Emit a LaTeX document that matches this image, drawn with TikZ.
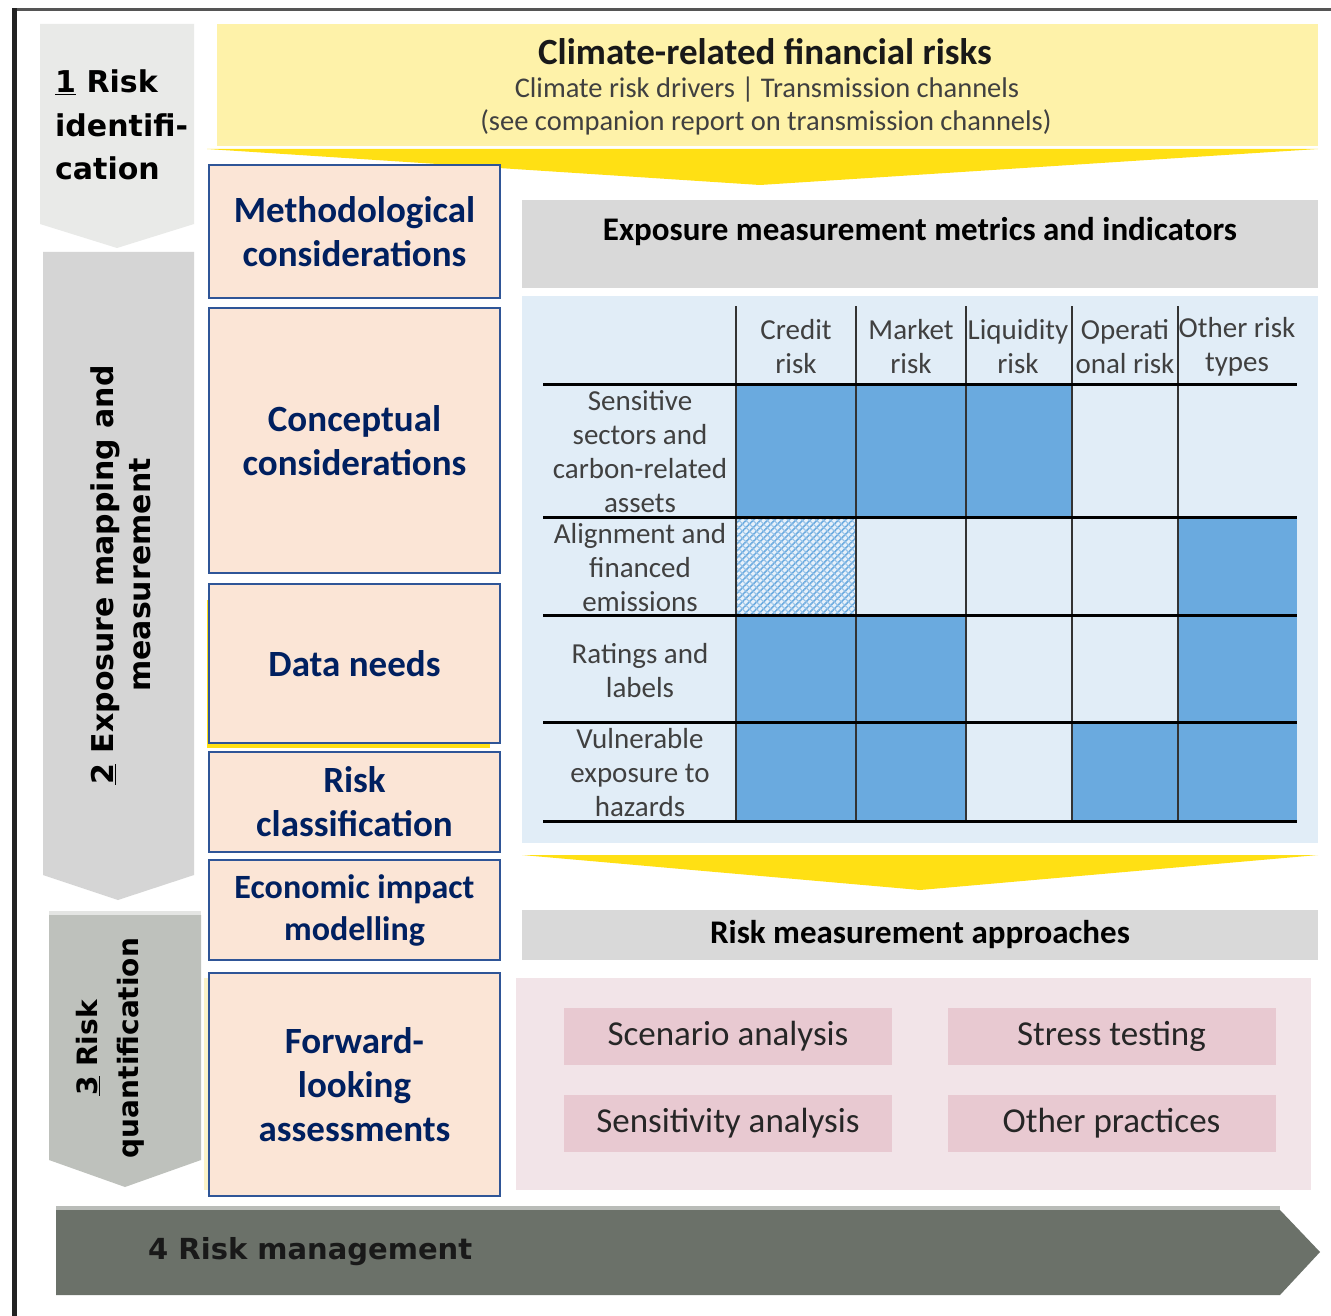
\documentclass[tikz,border=0pt]{standalone}
\usepackage{fontspec}
\setmainfont{Carlito}
\newfontfamily\stagefont{DejaVu Sans}
\usetikzlibrary{patterns,patterns.meta}
\newcommand\myfs[2]{\fontsize{#1}{#2}\selectfont}
\definecolor{frameL}{HTML}{222222}
\definecolor{frameT}{HTML}{555555}
\definecolor{stA}{HTML}{E9EAE8}
\definecolor{stB}{HTML}{D5D5D5}
\definecolor{stC}{HTML}{BEC1BC}
\definecolor{stCtop}{HTML}{E4E5E3}
\definecolor{stD}{HTML}{6B7169}
\definecolor{stDtop}{HTML}{B9BCB8}
\definecolor{paleY}{HTML}{FEF2A9}
\definecolor{goldY}{HTML}{FFE014}
\definecolor{peach}{HTML}{FBE5D6}
\definecolor{boxBorder}{HTML}{2F5597}
\definecolor{navy}{HTML}{002060}
\definecolor{hdrGray}{HTML}{D9D9D9}
\definecolor{panelBlue}{HTML}{E1EDF7}
\definecolor{cellBlue}{HTML}{6AAADF}
\definecolor{hatchBase}{HTML}{E8F1FA}
\definecolor{panelPink}{HTML}{F2E4E8}
\definecolor{cellPink}{HTML}{E8C9D1}
\definecolor{txtGray}{HTML}{404040}
\definecolor{txtDark}{HTML}{262626}
\definecolor{gridGray}{HTML}{333333}
\definecolor{fadeY}{HTML}{FBF3C8}
\begin{document}
\begin{tikzpicture}[x=1pt,y=-1pt,
  leftbox/.style={draw=boxBorder, line width=2.5pt, fill=peach, text=navy, align=center, inner sep=0pt, minimum width=291pt, font=\bfseries\myfs{37}{44}},
  stagelbl/.style={font=\stagefont\bfseries\myfs{30}{37}, text=black, inner sep=0pt, align=center},
  hdrbox/.style={fill=hdrGray, inner sep=0pt, minimum width=796pt},
  hdrtxt/.style={font=\bfseries\myfs{33}{36}, text=black, inner sep=0pt},
  tbltxt/.style={font=\myfs{29}{34}, text=txtGray, inner sep=0pt, align=center},
  approach/.style={fill=cellPink, minimum width=328pt, minimum height=57pt, inner sep=0pt, font=\myfs{35}{40}, text=txtDark},
  gridH/.style={line width=3pt, black},
  gridV/.style={line width=2.8pt, gridGray},
  bluecell/.style={fill=cellBlue},
]
\useasboundingbox (0,0) rectangle (1331,1316);
\fill[white] (0,0) rectangle (1331,1316);

% frame
\draw[frameT, line width=3pt] (14,10) -- (1331,10);
\draw[frameL, line width=5pt] (14,8.5) -- (14,1316);

% stage arrows
\fill[stA] (40,24) -- (194,24) -- (194,224) -- (117,248) -- (40,224) -- cycle;
\fill[stB] (43,252) -- (194,252) -- (194,875) -- (118,900) -- (43,875) -- cycle;
\fill[stCtop] (49,911) rectangle (201,915);
\fill[stC] (49,915) -- (201,915) -- (201,1160) -- (125,1187) -- (49,1160) -- cycle;
\fill[stDtop] (56,1206) rectangle (1280,1211);
\fill[stD] (56,1210) -- (1280,1210) -- (1320,1252) -- (1280,1295) -- (56,1295) -- cycle;

\node[stagelbl, align=left, anchor=north west, font=\stagefont\bfseries\myfs{30}{43.5}] (s1) at (55,70) {\underline{1} Risk\\identifi-\\cation};
\node[stagelbl, rotate=90] (s2) at (121,575) {\underline{2} Exposure mapping and\\measurement};
\node[stagelbl, rotate=90, font=\stagefont\bfseries\myfs{28}{41}] (s3) at (110,1048) {\underline{3} Risk\\quantification};
\node[stagelbl, anchor=west, font=\stagefont\bfseries\myfs{29}{34}, text={black!90}] (s4) at (148,1252) {4 Risk management};

% top banner
\fill[paleY] (217,24) rectangle (1318,146);
\fill[goldY] (207,149) -- (1318,149) -- (760,185) -- cycle;
\node[inner sep=0pt, font=\bfseries\myfs{37}{40}, text=black!90] (ttl) at (765,52) {Climate-related financial risks};
\node[inner sep=0pt, font=\myfs{28.5}{32}, text=txtGray] (sub1) at (767,90) {Climate risk drivers | Transmission channels};
\node[inner sep=0pt, font=\myfs{28.5}{32}, text=txtGray] (sub2) at (766,122) {(see companion report on transmission channels)};

% yellow strips behind left boxes
\fill[goldY] (207,600) rectangle (490,748);
\fill[fadeY] (204,978) rectangle (208,1190);

% left boxes
\node[leftbox, minimum height=133pt] (meth) at (354.5,231.5) {Methodological\\considerations};
\node[leftbox, minimum height=265pt] (conc) at (354.5,440.5) {Conceptual\\considerations};
\node[leftbox, minimum height=159pt] (data) at (354.5,663.5) {Data needs};
\node[leftbox, minimum height=100pt] (rcls) at (354.5,802) {Risk\\classification};
\node[leftbox, minimum height=100pt, font=\bfseries\myfs{34}{42}] (econ) at (354.5,910) {Economic impact\\modelling};
\node[leftbox, minimum height=223pt] (fwd) at (354.5,1084.5) {Forward-\\looking\\assessments};

% exposure header and panel
\node[hdrbox, minimum height=88pt] (expobox) at (920,244) {};
\node[hdrtxt] (expotxt) at (920,232) {Exposure measurement metrics and indicators};
\node[fill=panelBlue, inner sep=0pt, minimum width=796pt, minimum height=547pt] (panel) at (920,569.5) {};

% table cells
\fill[bluecell] (736,384) rectangle (1072,517);
\fill[hatchBase] (736,517) rectangle (856,615);
\fill[pattern={Lines[angle=45,distance=5pt,line width=1.6pt]}, pattern color=cellBlue] (736,517) rectangle (856,615);
\fill[pattern={Lines[angle=-45,distance=5pt,line width=1.2pt]}, pattern color=cellBlue!70] (736,517) rectangle (856,615);
\fill[bluecell] (1178,517) rectangle (1297,615);
\fill[bluecell] (736,615) rectangle (966,722);
\fill[bluecell] (1178,615) rectangle (1297,722);
\fill[bluecell] (736,722) rectangle (966,821);
\fill[bluecell] (1072,722) rectangle (1297,821);

% table texts
\node[tbltxt] (hc1) at (796,347) {Credit\\risk};
\node[tbltxt] (hc2) at (911,347) {Market\\risk};
\node[tbltxt] (hc3) at (1018,347) {Liquidity\\risk};
\node[tbltxt] (hc4) at (1125,347) {Operati\\onal risk};
\node[tbltxt] (hc5) at (1237,347) {Other risk\\types};
\node[tbltxt] (r1) at (640,452) {Sensitive\\sectors and\\carbon-related\\assets};
\node[tbltxt] (r2) at (640,568) {Alignment and\\financed\\emissions};
\node[tbltxt] (r3) at (640,671) {Ratings and\\labels};
\node[tbltxt] (r4) at (640,773) {Vulnerable\\exposure to\\hazards};

% grid
\foreach \xx in {736,856,966,1072,1178}
  \draw[gridV] (\xx,306) -- (\xx,821);
\foreach \yy in {384,517,615,722,821}
  \draw[gridH] (543,\yy) -- (1297,\yy);

% lower chevron
\fill[goldY] (522,855) -- (1318,855) -- (920,890) -- cycle;

% risk measurement approaches
\node[hdrbox, minimum height=50pt] (rmabox) at (920,935) {};
\node[hdrtxt] (rmatxt) at (920,935) {Risk measurement approaches};
\node[fill=panelPink, inner sep=0pt, minimum width=795pt, minimum height=212pt] (pink) at (913.5,1084) {};
\node[approach] (scen) at (728,1036.5) {Scenario analysis};
\node[approach] (stress) at (1111.5,1036.5) {Stress testing};
\node[approach] (sens) at (728,1123) {Sensitivity analysis};
\node[approach] (other) at (1111.5,1123) {Other practices};
\end{tikzpicture}
\end{document}
